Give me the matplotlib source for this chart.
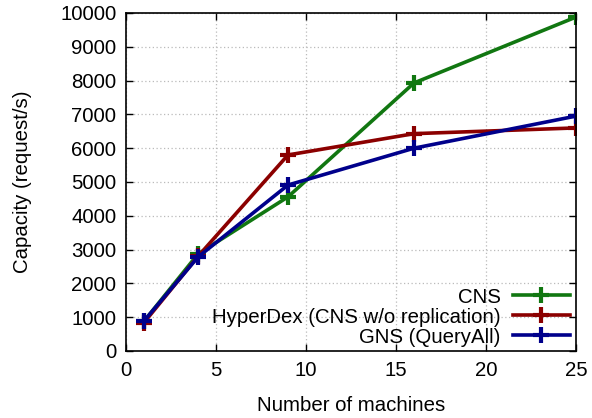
import numpy as np
import matplotlib
matplotlib.use('Agg')
import matplotlib.pyplot as plt

machines = [1, 4, 9, 16, 25]
cns = [880, 2870, 4560, 7930, 9880]
hyperdex = [840, 2800, 5800, 6430, 6600]
gns = [890, 2780, 4910, 6000, 6950]

plt.rcParams['font.family'] = ['Liberation Sans', 'DejaVu Sans']
plt.rcParams['font.size'] = 14.7

fig = plt.figure(figsize=(5.92, 4.18), dpi=100)
ax = fig.add_axes([126/592, 1 - 351/418, 450/592, 338/418])

style = dict(lw=2.6, marker='+', ms=11, mew=3)
ax.plot(machines, cns, color='#117711', label='CNS', **style)
ax.plot(machines, hyperdex, color='#8b0000', label='HyperDex (CNS w/o replication)', **style)
ax.plot(machines, gns, color='#00008b', label='GNS (QueryAll)', **style)

ax.set_xlim(0, 25)
ax.set_ylim(0, 10000)
ax.set_xticks(range(0, 26, 5))
ax.set_yticks(range(0, 10001, 1000))
ax.tick_params(direction='in', top=True, right=True, length=5, width=1, pad=7)
ax.grid(True, color='#bbbbbb', linestyle=(0, (1, 2)), lw=0.9)
for s in ax.spines.values():
    s.set_linewidth(1.2)

ax.set_xlabel('Number of machines', labelpad=12)
ax.set_ylabel('Capacity (request/s)', labelpad=20)

ax.legend(loc='lower right', bbox_to_anchor=(1.0, -0.005), frameon=False,
          markerfirst=False, handlelength=2.8, handletextpad=0.6,
          labelspacing=0.05, borderaxespad=0.0, borderpad=0.3, fontsize=14.7)

fig.savefig('out.png', dpi=100)
